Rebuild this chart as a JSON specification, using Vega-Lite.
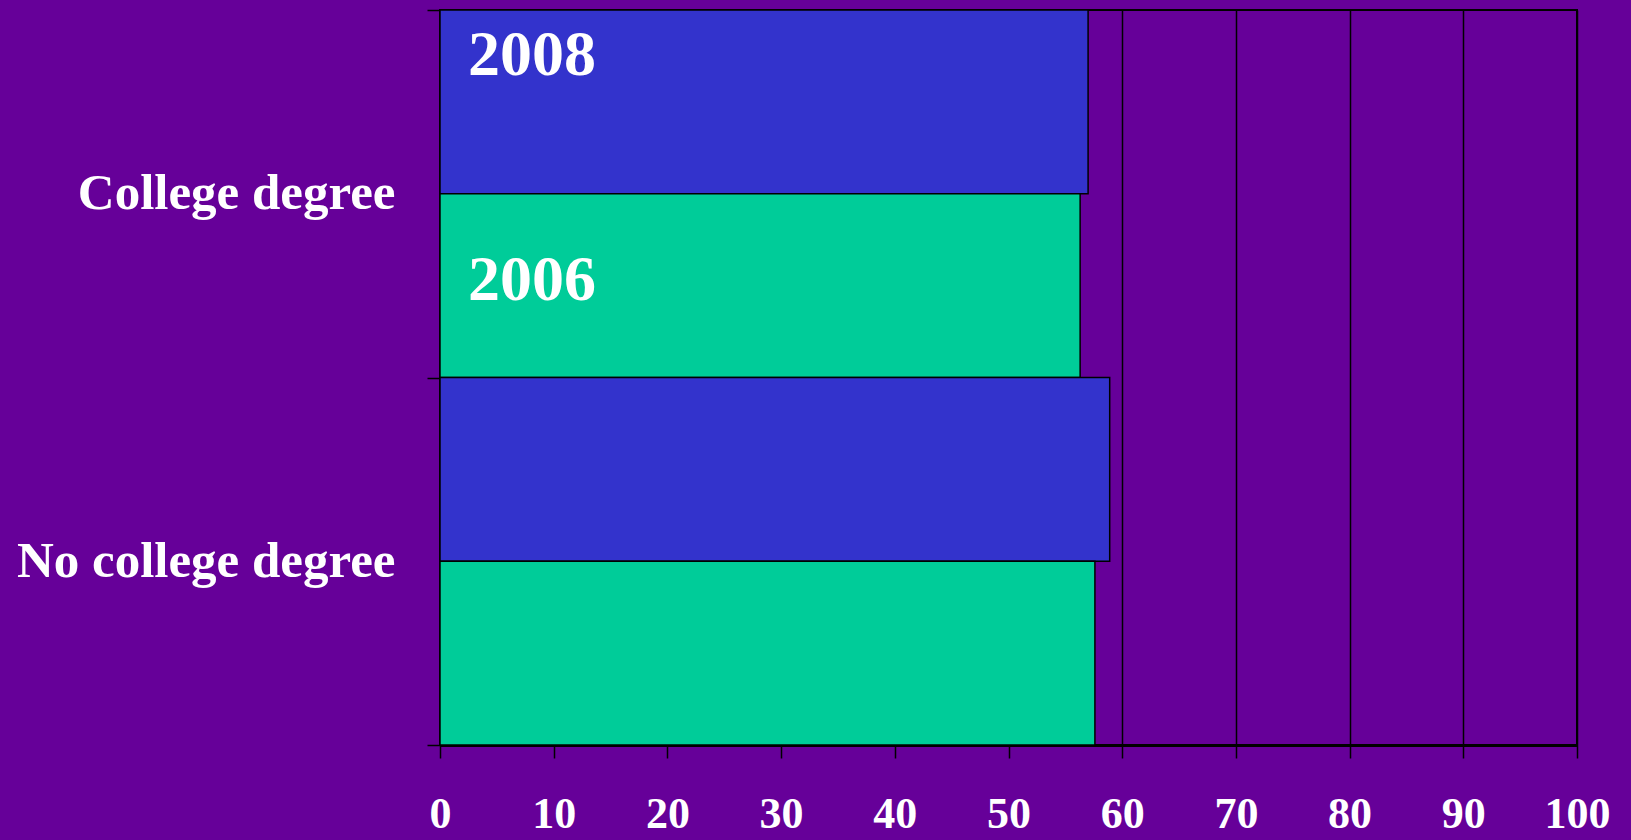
{
  "$schema": "https://vega.github.io/schema/vega-lite/v6.json",
  "autosize": "none",
  "width": 1137,
  "height": 735,
  "padding": {"left": 440, "top": 10, "right": 54, "bottom": 95},
  "background": "#660099",
  "config": {
    "view": {"fill": "#660099", "stroke": "#000000", "strokeWidth": 2},
    "font": "Liberation Serif"
  },
  "data": {
    "values": [
      {"category": "College degree", "year": "2008", "percent": 57.0},
      {"category": "College degree", "year": "2006", "percent": 56.3},
      {"category": "No college degree", "year": "2008", "percent": 58.9},
      {"category": "No college degree", "year": "2006", "percent": 57.6}
    ]
  },
  "layer": [
    {
      "mark": {"type": "bar", "stroke": "#000000", "strokeWidth": 1.5},
      "encoding": {
        "y": {
          "field": "category", "type": "nominal",
          "sort": ["College degree", "No college degree"],
          "scale": {"paddingInner": 0, "paddingOuter": 0},
          "axis": {
            "title": null,
            "tickBand": "extent",
            "tickSize": 13, "tickColor": "#000000", "tickWidth": 1.5,
            "domainColor": "#000000", "domainWidth": 2,
            "labelFont": "Liberation Serif", "labelFontWeight": "bold",
            "labelFontSize": 51, "labelColor": "#ffffff",
            "labelPadding": 32, "labelLimit": 500
          }
        },
        "yOffset": {
          "field": "year", "type": "nominal",
          "sort": ["2008", "2006"],
          "scale": {"paddingInner": 0, "paddingOuter": 0}
        },
        "x": {
          "field": "percent", "type": "quantitative",
          "scale": {"domain": [0, 100], "nice": false},
          "axis": {
            "title": null,
            "values": [0, 10, 20, 30, 40, 50, 60, 70, 80, 90, 100],
            "grid": true, "gridColor": "#000000", "gridWidth": 1.5, "gridOpacity": 1,
            "tickSize": 13, "tickColor": "#000000", "tickWidth": 1.5,
            "domainColor": "#000000", "domainWidth": 3,
            "labelFont": "Liberation Serif", "labelFontWeight": "bold",
            "labelFontSize": 44, "labelColor": "#ffffff",
            "labelPadding": 34, "labelFlush": false, "labelOverlap": false
          }
        },
        "color": {
          "field": "year", "type": "nominal",
          "scale": {"domain": ["2008", "2006"], "range": ["#3333CC", "#00CC99"]},
          "legend": null
        }
      }
    },
    {
      "transform": [
        {"filter": "datum.category === 'College degree' && datum.year === '2008'"}
      ],
      "mark": {
        "type": "text", "align": "left", "baseline": "alphabetic",
        "dx": 28, "dy": -27,
        "font": "Liberation Serif", "fontWeight": "bold", "fontSize": 64,
        "color": "#ffffff"
      },
      "encoding": {
        "y": {"field": "category", "type": "nominal", "sort": ["College degree", "No college degree"]},
        "yOffset": {"field": "year", "type": "nominal", "sort": ["2008", "2006"]},
        "x": {"datum": 0, "type": "quantitative"},
        "text": {"field": "year"}
      }
    },
    {
      "transform": [
        {"filter": "datum.category === 'College degree' && datum.year === '2006'"}
      ],
      "mark": {
        "type": "text", "align": "left", "baseline": "alphabetic",
        "dx": 28, "dy": 14,
        "font": "Liberation Serif", "fontWeight": "bold", "fontSize": 64,
        "color": "#ffffff"
      },
      "encoding": {
        "y": {"field": "category", "type": "nominal", "sort": ["College degree", "No college degree"]},
        "yOffset": {"field": "year", "type": "nominal", "sort": ["2008", "2006"]},
        "x": {"datum": 0, "type": "quantitative"},
        "text": {"field": "year"}
      }
    }
  ]
}
